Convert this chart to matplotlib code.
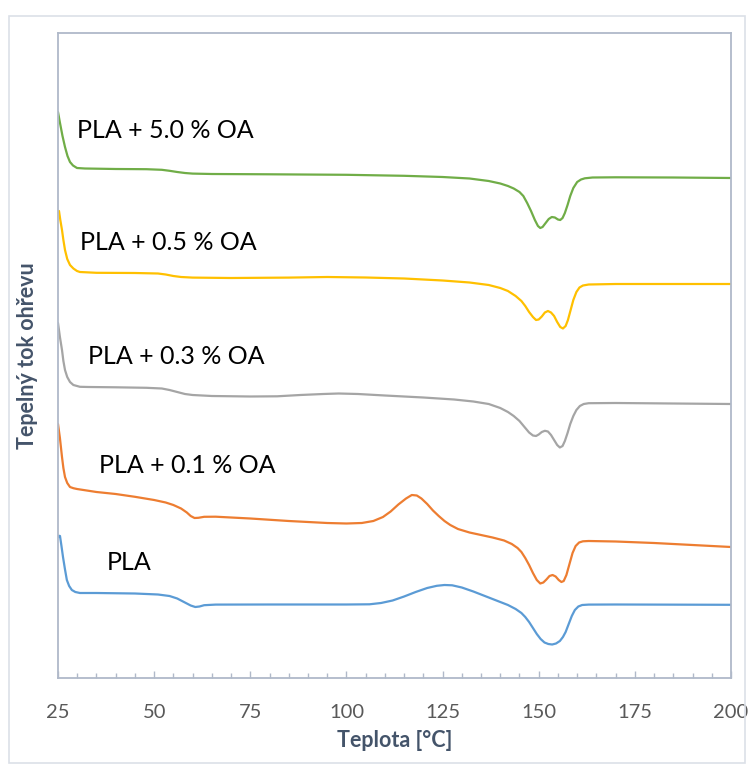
import matplotlib.pyplot as plt
from matplotlib.patches import Rectangle
from matplotlib.ticker import MultipleLocator

# teplota [°C] a tepelný tok (libovolné jednotky, exo nahoru)
t_pla = [25.0, 25.25, 25.52, 25.9, 26.3, 26.8, 27.3, 27.9, 28.6, 29.5, 30.7, 35, 45, 51, 54, 56, 58,
         59.5, 60.7, 61.8, 63, 66, 80, 100, 106, 109, 112, 115, 118, 121, 123.5, 125.5, 127.5, 130,
         133, 136, 139, 142, 144, 145.5, 146.5, 147.5, 148.5, 149.5, 150.5, 151.5, 152.5, 153.5,
         154.5, 155.5, 156.3, 157, 157.8, 158.6, 159.4, 160.3, 161.3, 163, 170, 200]
q_pla = [141, 142.2, 142, 132, 121, 109, 98, 92, 88, 86, 85, 85, 84.5, 83.5, 82, 79.5, 75.5,
         72.5, 71, 71.5, 72.8, 73.4, 73.5, 73.5, 73.7, 75, 77.5, 81.5, 86, 90, 92.2, 93, 92.7, 90.5,
         86.5, 82, 77.5, 73, 69, 65, 61, 56, 50, 44, 39, 35.5, 34, 33.5,
         34.5, 37, 41, 46, 54, 62, 68, 71.5, 73, 73.4, 73.5, 73.2]

t_01 = [25.0, 25.5, 26.04, 26.4, 26.82, 27.4, 28.12, 29, 29.94, 35, 40, 45, 50, 53, 55, 57, 58.5, 59.5,
        60.5, 61.5, 63, 66, 75, 85, 95, 100, 104, 107, 109.5, 111.5, 113.5, 115.5, 117, 118.3, 119.5,
        121, 122.5, 124, 125.5, 127, 129, 132, 135, 138, 141, 143, 144.5, 145.5, 146.5, 147.5, 148.5,
        149.5, 150.4, 151.2, 152, 152.8, 153.6, 154.4, 155.2, 155.9, 156.5, 157.2, 158, 158.8, 159.6,
        160.5, 161.5, 163, 170, 180, 190, 200]
q_01 = [254, 240, 221, 210, 201, 195, 191, 189.8, 189, 186, 184, 181.2, 178, 175.5, 173, 169.5, 165.5,
        162, 160, 160.2, 161.2, 161.3, 159.5, 157, 155, 154.5, 155, 157, 161, 166.5, 173.5, 179.5, 183,
        182.5, 179.5, 174, 167.5, 162, 157, 153, 149, 145.5, 143, 140.5, 137.5, 134, 130, 126, 120,
        113, 105, 98, 94.5, 95.5, 98.5, 102, 103, 101.5, 98, 96, 97, 103, 114, 125, 132, 135.5, 136.7,
        137, 136.5, 135, 133, 131]

t_03 = [25.0, 25.5, 26.04, 26.4, 26.82, 27.4, 28.12, 29, 30.7, 33, 40, 48, 52, 54, 56, 58, 60, 65, 75, 82,
        88, 94, 98, 103, 110, 120, 128, 133, 137, 140, 142, 143.5, 145, 146.3, 147.5, 148.5, 149.3,
        150, 150.8, 151.6, 152.4, 153.2, 154, 154.8, 155.5, 156.2, 156.8, 157.5, 158.2, 159, 159.8,
        160.7, 161.7, 163, 170, 200]
q_03 = [355, 341, 328, 317, 308, 301, 296, 293, 291.2, 291, 290.7, 290.2, 289.5, 288, 286, 284, 283, 282,
        281.5, 281.7, 283, 284, 284.5, 284, 282.5, 280.5, 278.5, 276.5, 274, 270, 266, 262, 257, 251,
        245.5, 242.5, 242, 243.5, 246, 247.2, 246.5, 243, 238, 233, 230.5, 232, 237, 245, 254, 262,
        268, 272, 274, 274.8, 275, 274]

t_05 = [25.0, 25.26, 25.6, 26.04, 26.4, 26.82, 27.4, 28.12, 29, 29.94, 30.7, 35, 45, 51, 53, 55, 57, 60,
        70, 85, 95, 105, 115, 125, 132, 137, 140, 142, 144, 145.5, 146.5, 147.5, 148.5, 149.3, 150,
        150.8, 151.6, 152.4, 153.2, 154, 154.8, 155.6, 156.3, 157, 157.6, 158.3, 159, 159.8, 160.6,
        161.5, 163, 170, 200]
q_05 = [466, 467, 458, 448, 438, 428, 419, 413, 409.5, 407, 406, 405.2, 405, 404.5, 403.5, 402,
        401, 400.4, 400, 400.4, 401, 400.5, 399.5, 397.5, 395.5, 393, 390, 387, 382, 377, 372, 366, 361,
        358, 358.5, 361.5, 365.5, 367, 365.5, 362, 356, 351, 349.5, 352, 358, 368, 378, 386, 390.5,
        392.5, 393.5, 394, 394]

t_50 = [25.0, 25.52, 26.17, 26.82, 27.47, 28.12, 28.9, 29.94, 32, 40, 48, 52, 54, 56, 58, 60, 65, 80,
        100, 115, 125, 132, 137, 140, 142, 143.5, 145, 146, 147, 148, 149, 149.8, 150.4, 151, 151.8,
        152.6, 153.4, 154.2, 155, 155.6, 156.2, 156.8, 157.5, 158.2, 159, 160, 161, 162, 164, 170,
        185, 200]
q_50 = [566, 555, 542, 531, 522, 516, 512.5, 510, 509.5, 509, 508.8, 508.2, 507.2, 506, 505,
        504.4, 504, 503.7, 503.2, 502.2, 501, 499.5, 497, 494.5, 492, 489.5, 486, 482, 475, 467, 458,
        452, 450, 451, 455, 459, 461, 460.5, 458.5, 458, 460, 465, 473, 482, 490, 496, 498.5, 499.7,
        500.5, 500.7, 500.5, 500]

series = [
    (t_pla, q_pla, '#5B9BD5', 'PLA', 107, 562),
    (t_01, q_01, '#ED7D31', 'PLA + 0.1 % OA', 99, 466),
    (t_03, q_03, '#A5A5A5', 'PLA + 0.3 % OA', 88, 356),
    (t_05, q_05, '#FFC000', 'PLA + 0.5 % OA', 80, 242),
    (t_50, q_50, '#70AD47', 'PLA + 5.0 % OA', 77, 130),
]

W, H = 753, 764
fig = plt.figure(figsize=(W / 100, H / 100), dpi=100)
plt.rcParams['font.family'] = ['Lato', 'DejaVu Sans']

# vnější rámeček grafu
fig.patches.append(Rectangle((9 / W, 1 - 763 / H), 736 / W, 747 / H, transform=fig.transFigure,
                             fill=False, edgecolor='#DCE0E8', lw=1.2))

ax = fig.add_axes([58 / W, 1 - 678 / H, 673 / W, 645 / H])
spine_c = '#B0B9C9'

for t, q, c, name, lx, ly in series:
    ax.plot(t, q, color=c, lw=1.6, solid_joinstyle='round', solid_capstyle='round')
    # popisek v pixelech obrázku -> souřadnice figury
    fig.text(lx / W, 1 - ly / H, name, fontsize=18, color='black', va='center', ha='left')

ax.set_xlim(25, 200)
ax.set_ylim(0, 645)
ax.set_yticks([])
ax.xaxis.set_major_locator(MultipleLocator(25))
ax.xaxis.set_minor_locator(MultipleLocator(5))
ax.tick_params(axis='x', which='major', direction='in', length=5, width=1, color=spine_c,
               labelsize=14.5, labelcolor='#595959', pad=19)
ax.tick_params(axis='x', which='minor', direction='in', length=3.5, width=1, color=spine_c)
for s in ax.spines.values():
    s.set_color(spine_c)
    s.set_linewidth(1.3)

ax.set_xlabel('Teplota [°C]', fontsize=15.5, fontweight='bold', color='#44546A', labelpad=6)
fig.text(28 / W, 1 - 356 / H, 'Tepelný tok ohřevu', rotation=90, fontsize=15.5, fontweight='bold',
         color='#44546A', va='center', ha='center')

fig.savefig('out.png', dpi=100)
